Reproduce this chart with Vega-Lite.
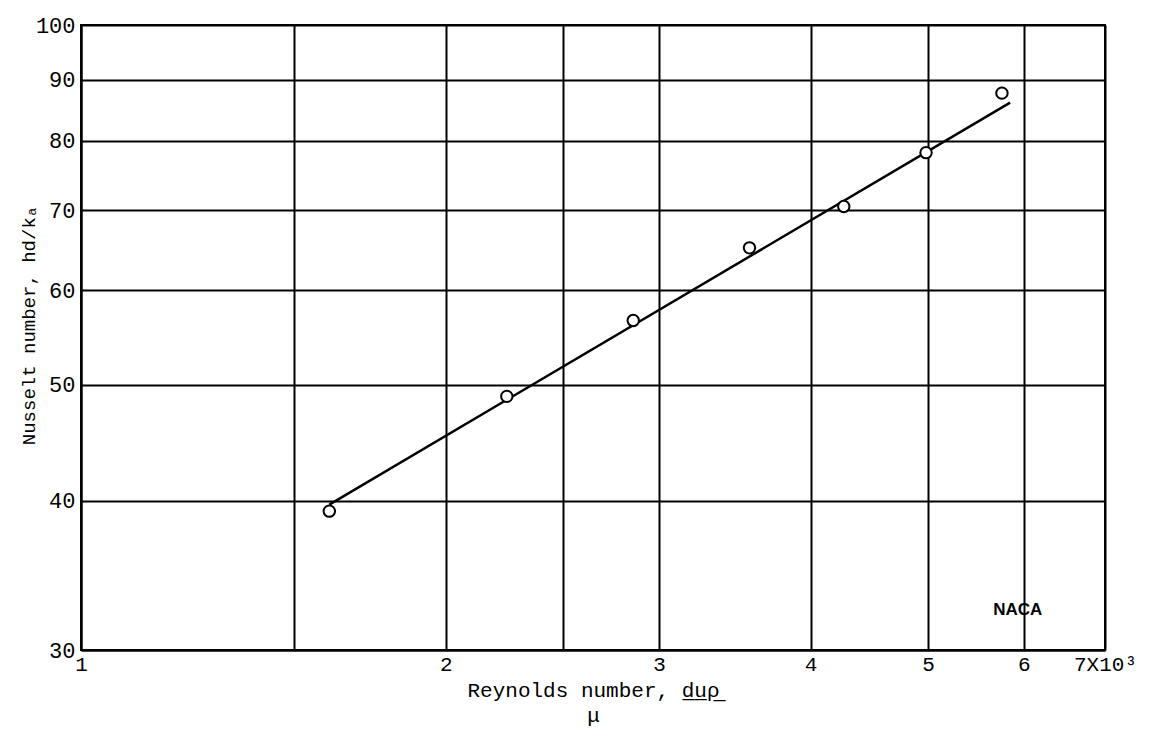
{
  "$schema": "https://vega.github.io/schema/vega-lite/v6.json",
  "width": 1024,
  "height": 625,
  "autosize": {"type": "none"},
  "padding": {"left": 81, "top": 25, "right": 51, "bottom": 82},
  "background": "white",
  "config": {
    "view": {"stroke": "black", "strokeWidth": 2},
    "axis": {
      "labelFont": "Liberation Mono",
      "titleFont": "Liberation Mono",
      "labelColor": "black",
      "titleColor": "black",
      "domainColor": "black",
      "domainWidth": 2,
      "gridColor": "black",
      "gridWidth": 2,
      "gridOpacity": 1,
      "ticks": false,
      "labelFontSize": 22,
      "titleFontSize": 21,
      "titleFontWeight": "normal"
    }
  },
  "datasets": {
    "points": [
      {"Re": 1.603, "Nu": 39.2},
      {"Re": 2.246, "Nu": 48.9},
      {"Re": 2.856, "Nu": 56.6},
      {"Re": 3.562, "Nu": 65.1},
      {"Re": 4.261, "Nu": 70.5},
      {"Re": 4.982, "Nu": 78.2},
      {"Re": 5.755, "Nu": 87.7}
    ],
    "fit": [
      {"Re": 1.603, "Nu": 39.7},
      {"Re": 5.845, "Nu": 86.1}
    ],
    "logo": [
      {"Re": 5.93, "Nu": 32.4, "label": "NACA"}
    ]
  },
  "encoding": {
    "x": {
      "field": "Re",
      "type": "quantitative",
      "scale": {"type": "log", "domain": [1, 7], "nice": false, "zero": false},
      "axis": {
        "values": [1, 1.5, 2, 2.5, 3, 4, 5, 6, 7],
        "labelExpr": "datum.value == 7 ? '7X10³' : (datum.value == 1.5 || datum.value == 2.5) ? '' : format(datum.value, 'd')",
        "labelFontSize": 21,
        "labelPadding": 3,
        "labelFlush": false,
        "labelOverlap": false,
        "title": ["Reynolds number, d̲u̲ρ̲", "\u00a0\u00a0\u00a0\u00a0\u00a0\u00a0\u00a0\u00a0\u00a0\u00a0\u00a0\u00a0\u00a0\u00a0\u00a0\u00a0\u00a0\u00a0μ\u00a0"],
        "titleFontSize": 21,
        "titleX": 512,
        "titleY": 29,
        "titleBaseline": "top",
        "titleLineHeight": 25
      }
    },
    "y": {
      "field": "Nu",
      "type": "quantitative",
      "scale": {"type": "log", "domain": [30, 100], "nice": false, "zero": false},
      "axis": {
        "values": [30, 40, 50, 60, 70, 80, 90, 100],
        "labelPadding": 6,
        "labelFlush": false,
        "labelOverlap": false,
        "title": "Nusselt number, hd/kₐ",
        "titleFontSize": 19,
        "titleX": -53,
        "titleY": 300,
        "titleAngle": 270,
        "titleBaseline": "middle",
        "titleAlign": "center"
      }
    }
  },
  "layer": [
    {
      "data": {"name": "fit"},
      "mark": {"type": "line", "color": "black", "strokeWidth": 2.5}
    },
    {
      "data": {"name": "points"},
      "mark": {"type": "point", "shape": "circle", "filled": true, "fill": "white", "stroke": "black", "strokeWidth": 2, "size": 130, "opacity": 1}
    },
    {
      "data": {"name": "logo"},
      "mark": {"type": "text", "font": "Liberation Sans", "fontSize": 17, "fontWeight": "bold", "color": "black"},
      "encoding": {"text": {"field": "label"}}
    }
  ]
}
